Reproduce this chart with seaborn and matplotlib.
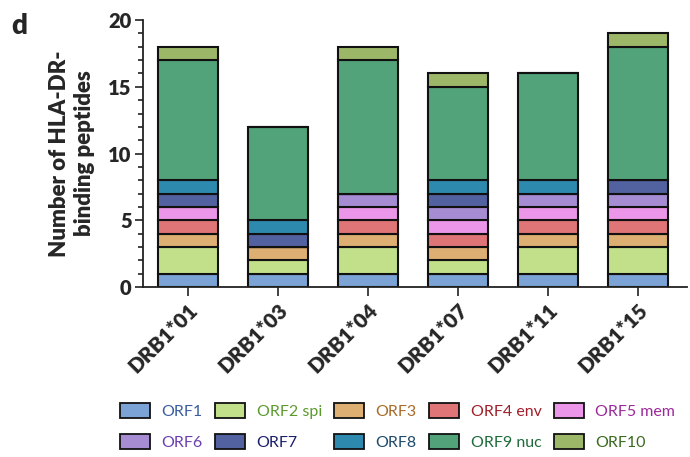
import matplotlib
matplotlib.use("Agg")
import matplotlib.pyplot as plt
from matplotlib.patches import Patch
from matplotlib.ticker import MultipleLocator
import seaborn as sns
import pandas as pd
import numpy as np

alleles = ["DRB1*01", "DRB1*03", "DRB1*04", "DRB1*07", "DRB1*11", "DRB1*15"]
orfs = ["ORF1", "ORF2 spi", "ORF3", "ORF4 env", "ORF5 mem",
        "ORF6", "ORF7", "ORF8", "ORF9 nuc", "ORF10"]

orf1 = [1, 1, 1, 1, 1, 1]
orf2 = [2, 1, 2, 1, 2, 2]
orf3 = [1, 1, 1, 1, 1, 1]
orf4 = [1, 0, 1, 1, 1, 1]
orf5 = [1, 0, 1, 1, 1, 1]
orf6 = [0, 0, 1, 1, 1, 1]
orf7 = [1, 1, 0, 1, 0, 1]
orf8 = [1, 1, 0, 1, 1, 0]
orf9 = [9, 7, 10, 7, 8, 10]
orf10 = [1, 0, 1, 1, 0, 1]
series = [orf1, orf2, orf3, orf4, orf5, orf6, orf7, orf8, orf9, orf10]

fill_colors = ["#7BA3D6", "#C2E08A", "#DDAF72", "#E07578", "#EB96E8",
               "#A68DD3", "#52619F", "#2E89AF", "#52A37A", "#9DB768"]
text_colors = ["#3A5DA0", "#5C9A2E", "#A86B28", "#A01F2A", "#9B2A9B",
               "#6A3FB0", "#1A1F6A", "#1E4A6A", "#1E6B3A", "#3A6A1E"]

sns.set_style("ticks")
plt.rcParams["font.family"] = ["Lato", "DejaVu Sans"]

fig = plt.figure(figsize=(6.9, 4.57), dpi=100)
ax = fig.add_axes([0.207, 0.372, 0.789, 0.584])

bottom = np.zeros(len(alleles))
for name, vals, col in zip(orfs, series, fill_colors):
    df = pd.DataFrame({"allele": alleles, "n": vals})
    sns.barplot(data=df, x="allele", y="n", order=alleles, color=col,
                saturation=1, width=0.667, bottom=bottom.copy(),
                edgecolor="#111111", linewidth=1.5, ax=ax, errorbar=None)
    bottom += np.array(vals)

ax.set_xlim(-0.5, 5.55)
ax.set_ylim(0, 20)
ax.yaxis.set_major_locator(MultipleLocator(5))
ax.yaxis.set_minor_locator(MultipleLocator(1))
for side in ["top", "right"]:
    ax.spines[side].set_visible(False)
for side in ["left", "bottom"]:
    ax.spines[side].set_linewidth(1.3)
    ax.spines[side].set_color("#222222")
ax.tick_params(axis="y", which="major", length=6, width=1.2, color="#222222",
               labelsize=14.5, pad=2)
ax.tick_params(axis="y", which="minor", length=3.5, width=1.2, color="#222222")
ax.tick_params(axis="x", length=6.5, width=1.2, color="#222222", labelsize=15, pad=3)
for lab in ax.get_yticklabels():
    lab.set_fontweight("heavy")
ax.set_xticks(range(len(alleles)))
ax.set_xticklabels(alleles, rotation=45, ha="right", rotation_mode="anchor",
                   fontweight="heavy")
ax.set_xlabel("")
ax.set_ylabel("Number of HLA-DR-\nbinding peptides", fontsize=16,
              fontweight="heavy", linespacing=1.25)
ax.yaxis.set_label_coords(-0.088, 0.5)

fig.text(0.016, 0.925, "d", fontsize=20, fontweight="heavy")

# legend filled row-wise (matplotlib fills column-wise, so interleave)
nrow, ncol = 2, 5
order = [r * ncol + c for c in range(ncol) for r in range(nrow)]
handles = [Patch(facecolor=fill_colors[i], edgecolor="#111111", linewidth=1.3) for i in order]
labels = [orfs[i] for i in order]
leg = fig.legend(handles, labels, ncol=ncol, loc="upper left",
                 bbox_to_anchor=(0.174, 0.119), frameon=False, fontsize=11.5,
                 handlelength=1.88, handleheight=1.06, handletextpad=0.71,
                 columnspacing=0.78, labelspacing=1.0, borderpad=0,
                 borderaxespad=0)
for t, i in zip(leg.get_texts(), order):
    t.set_color(text_colors[i])

fig.savefig("out.png", dpi=100)
